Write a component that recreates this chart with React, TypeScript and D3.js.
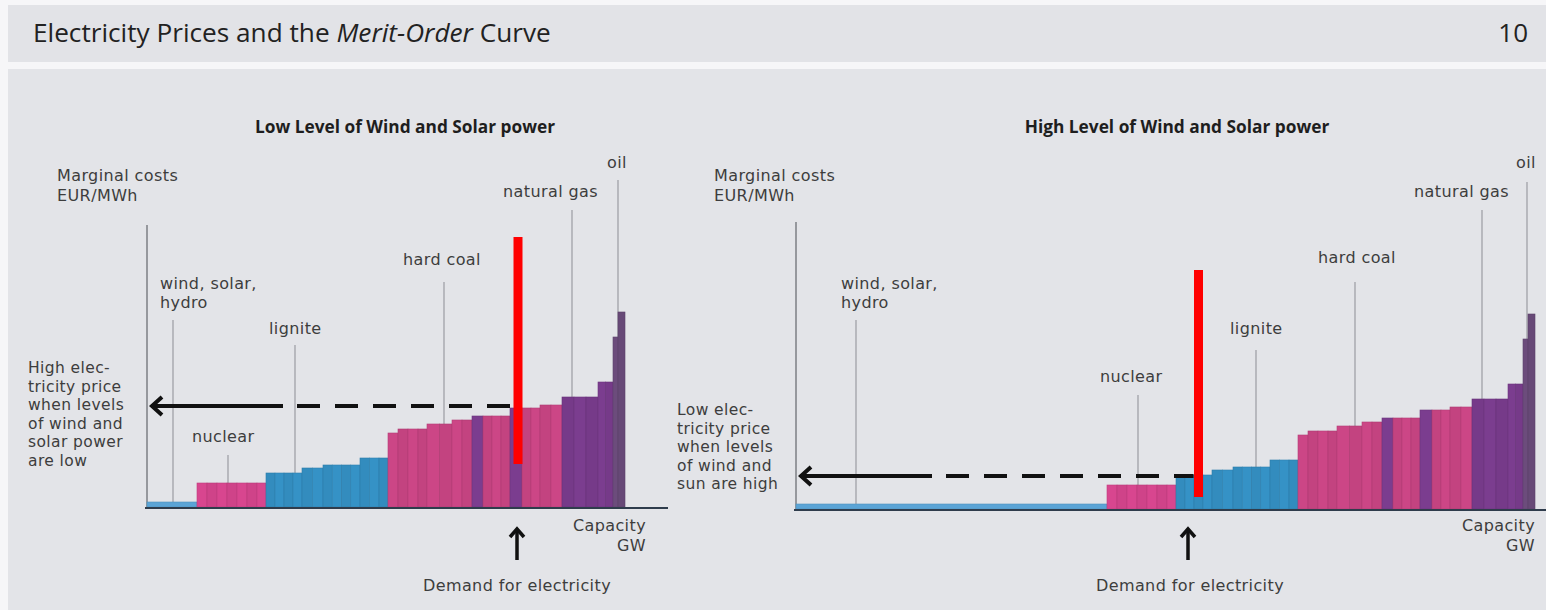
import React from "react";
import * as d3 from "d3";

// ---------- DATA ----------
const fuelKeys = ["renewables", "nuclear", "lignite", "hardcoal", "gas", "oil"];
const fuelColors = ["#5ba4d6", "#d8468f", "#3592c6", "#cc4686", "#7b3d8f", "#6c4c7c"];

// conventional fleet, in merit order (each entry = one plant)
const plantFuel = [
  "nuclear", "nuclear", "nuclear", "nuclear", "nuclear", "nuclear", "nuclear",
  "lignite", "lignite", "lignite", "lignite",
  "lignite", "lignite",
  "lignite", "lignite", "lignite", "lignite",
  "lignite", "lignite", "lignite",
  "hardcoal",
  "hardcoal", "hardcoal", "hardcoal",
  "hardcoal", "hardcoal",
  "hardcoal", "hardcoal",
  "gas",
  "hardcoal", "hardcoal", "hardcoal",
  "gas",
  "hardcoal", "hardcoal",
  "hardcoal", "hardcoal",
  "gas", "gas", "gas",
  "gas", "gas",
  "oil", "oil",
];
const plantCapacity = [
  2, 2, 2, 2, 2, 2, 1.8,
  1.8, 1.8, 1.8, 1.8,
  2.1, 2.1,
  1.85, 1.85, 1.85, 1.85,
  1.9, 1.9, 1.8,
  2.0,
  2.0, 2.0, 1.8,
  2.5, 2.5,
  2.0, 2.0,
  2.2,
  1.8, 1.8, 1.8,
  2.4,
  1.8, 1.8,
  2.2, 2.2,
  2.4, 2.4, 2.4,
  1.5, 1.5,
  1.0, 1.4,
];
const plantCost = [
  12, 12, 12, 12, 12, 12, 12,
  17, 17, 17, 17,
  19.5, 19.5,
  21, 21, 21, 21,
  24.5, 24.5, 24.5,
  37,
  39, 39, 39,
  41.5, 41.5,
  43.5, 43.5,
  45.5,
  45.5, 45.5, 45.5,
  49.5,
  49.5, 49.5,
  51, 51,
  55, 55, 55,
  62.5, 62.5,
  85, 97.5,
];

const scenarioTitles = ["Low Level of Wind and Solar power", "High Level of Wind and Solar power"];
const renewableCapacity = [10, 62.2]; // GW
const renewableCost = [2.5, 2.5];
const clearingPrice = [50.5, 16.5]; // EUR/MWh
const demandMarker = [74.2, 80.5]; // GW (red bar)
const demandMarkerLow = [21.5, 6];
const demandMarkerHigh = [135, 119.5];
const demandArrow = [74, 78.4];
const priceNote = [
  ["High elec-", "tricity price", "when levels", "of wind and", "solar power", "are low"],
  ["Low elec-", "tricity price", "when levels", "of wind and", "sun are high"],
];
const leaderLabels = ["wind, solar,|hydro", "nuclear", "lignite", "hard coal", "natural gas", "oil"];
const leaderGW = [
  [5.2, 16.2, 29.6, 59.4, 85, 94.2],
  [12, 68.4, 92, 111.8, 137.2, 146.2],
];

// ---------- LAYOUT ----------
const W = 1546, H = 610;
const TFONT = "'Open Sans', Roboto, sans-serif";
const FONT = "'DejaVu Sans', 'Open Sans', sans-serif";
const LBL = 16;
const LS = 0.4;
const PX_GW = 5, PX_EUR = 2;
const panels = [
  { x0: 147, base: 507, axisTop: 225, baseEnd: 668, noteX: 28, noteY: 373, capX: 646, titleX: 405, demandTextX: 517,
    labelPos: [[160, 289], [192, 442], [269, 334], [403, 265], [503, 197], [607, 168]], leaderTop: [320, 455, 345, 282, 210, 180], margX: 57 },
  { x0: 796, base: 509, axisTop: 222, baseEnd: 1546, noteX: 677, noteY: 415, capX: 1535, titleX: 1177, demandTextX: 1190,
    labelPos: [[841, 289], [1100, 382], [1230, 334], [1318, 263], [1414, 197], [1516, 168]], leaderTop: [320, 395, 350, 282, 210, 182], margX: 714 },
];

function colorFor(fuel: string, i: number) {
  const c = d3.color(fuelColors[fuelKeys.indexOf(fuel)])!;
  return i % 2 === 0 ? c.formatHex() : c.darker(0.12).formatHex();
}

function Panel({ idx }: { idx: number }) {
  const p = panels[idx];
  const total = renewableCapacity[idx] + d3.sum(plantCapacity);
  const x = d3.scaleLinear().domain([0, total]).range([p.x0, p.x0 + total * PX_GW]);
  const y = d3.scaleLinear().domain([0, 140]).range([p.base, p.base - 140 * PX_EUR]);

  const starts = [renewableCapacity[idx]];
  plantCapacity.forEach((c, i) => starts.push(starts[i] + c));
  const bars = [
    { fuel: "renewables", x: 0, w: renewableCapacity[idx], cost: renewableCost[idx], i: 0 },
    ...plantCapacity.map((c, i) => ({ fuel: plantFuel[i], x: starts[i], w: c, cost: plantCost[i], i })),
  ];
  const costAt = (gw: number) => {
    const b = bars.find((b) => gw >= b.x && gw < b.x + b.w);
    return b ? b.cost : 0;
  };
  const labelColor = "#3d3d3d";
  const priceY = y(clearingPrice[idx]);
  const demandX = x(demandMarker[idx]);
  const arrowX = x(demandArrow[idx]);
  const dashStart = p.x0 + 136;
  const tp = { fontFamily: FONT, fontSize: LBL, fill: labelColor, letterSpacing: LS };

  return (
    <g>
      <text x={p.titleX} y={133} textAnchor="middle" fontFamily={TFONT} fontWeight={700} fontSize={17.3} fill="#1e1e1e">
        {scenarioTitles[idx]}
      </text>
      <text x={p.margX} y={181} {...tp}>Marginal costs</text>
      <text x={p.margX} y={200.5} {...tp}>EUR/MWh</text>
      {/* y axis */}
      <line x1={p.x0} x2={p.x0} y1={p.axisTop} y2={p.base} stroke="#7d7f85" strokeWidth={1.5} />
      {/* leader lines */}
      {leaderGW[idx].map((g, k) => (
        <line key={k} x1={x(g)} x2={x(g)} y1={p.leaderTop[k]} y2={y(costAt(g))} stroke="#9a9ca2" strokeWidth={1.2} />
      ))}
      {/* bars */}
      {bars.map((b, k) => (
        <rect key={k} x={x(b.x)} y={y(b.cost)} width={x(b.x + b.w) - x(b.x)} height={p.base - y(b.cost)}
          fill={colorFor(b.fuel, b.i)} stroke={d3.color(colorFor(b.fuel, b.i))!.darker(0.35).formatHex()} strokeWidth={0.6} />
      ))}
      {/* baseline */}
      <line x1={p.x0 - 2} x2={p.baseEnd} y1={p.base + 1} y2={p.base + 1} stroke="#2f3c4c" strokeWidth={2} />
      {/* labels */}
      {leaderLabels.map((l, k) => (
        <text key={k} x={p.labelPos[k][0]} y={p.labelPos[k][1]} {...tp}>
          {l.split("|").map((s, j) => (
            <tspan key={j} x={p.labelPos[k][0]} dy={j === 0 ? 0 : 19}>{s}</tspan>
          ))}
        </text>
      ))}
      {/* price arrow */}
      <line x1={p.x0 + 4} x2={dashStart} y1={priceY} y2={priceY} stroke="#111" strokeWidth={4} />
      <line x1={dashStart + 14} x2={demandX - 5} y1={priceY} y2={priceY} stroke="#111" strokeWidth={4} strokeDasharray="23 15" />
      <polyline points={`${p.x0 + 15},${priceY - 9} ${p.x0 + 5},${priceY} ${p.x0 + 15},${priceY + 9}`} fill="none" stroke="#111" strokeWidth={4} />
      {priceNote[idx].map((s, j) => (
        <text key={j} x={p.noteX} y={p.noteY + j * 18.6} {...tp} fontSize={15.5}>{s}</text>
      ))}
      {/* demand marker */}
      <rect x={demandX - 4.5} y={y(demandMarkerHigh[idx])} width={9} height={y(demandMarkerLow[idx]) - y(demandMarkerHigh[idx])} fill="#ff0000" />
      <line x1={arrowX} x2={arrowX} y1={560} y2={529} stroke="#111" strokeWidth={3.5} />
      <polyline points={`${arrowX - 7},${537} ${arrowX},${529} ${arrowX + 7},${537}`} fill="none" stroke="#111" strokeWidth={3.5} />
      <text x={p.demandTextX} y={591} textAnchor="middle" {...tp}>Demand for electricity</text>
      <text x={p.capX} y={531} textAnchor="end" {...tp}>Capacity</text>
      <text x={p.capX} y={551} textAnchor="end" {...tp}>GW</text>
    </g>
  );
}

export default function App() {
  return (
    <div style={{ position: "absolute", left: 0, top: 0 }}>
      <svg width={W} height={H} style={{ display: "block" }}>
        <rect x={0} y={0} width={W} height={H} fill="#f6f6f8" />
        <rect x={8} y={5} width={W - 8} height={57} fill="#e2e3e7" />
        <rect x={8} y={69} width={W - 8} height={H - 69} fill="#e3e4e8" />
        <text x={33} y={42} fontFamily={TFONT} fontSize={26.2} fill="#222">
          Electricity Prices and the <tspan fontStyle="italic">Merit-Order</tspan> Curve
        </text>
        <text x={1528} y={42} textAnchor="end" fontFamily={TFONT} fontSize={26} fill="#222">10</text>
        <Panel idx={0} />
        <Panel idx={1} />
      </svg>
    </div>
  );
}
